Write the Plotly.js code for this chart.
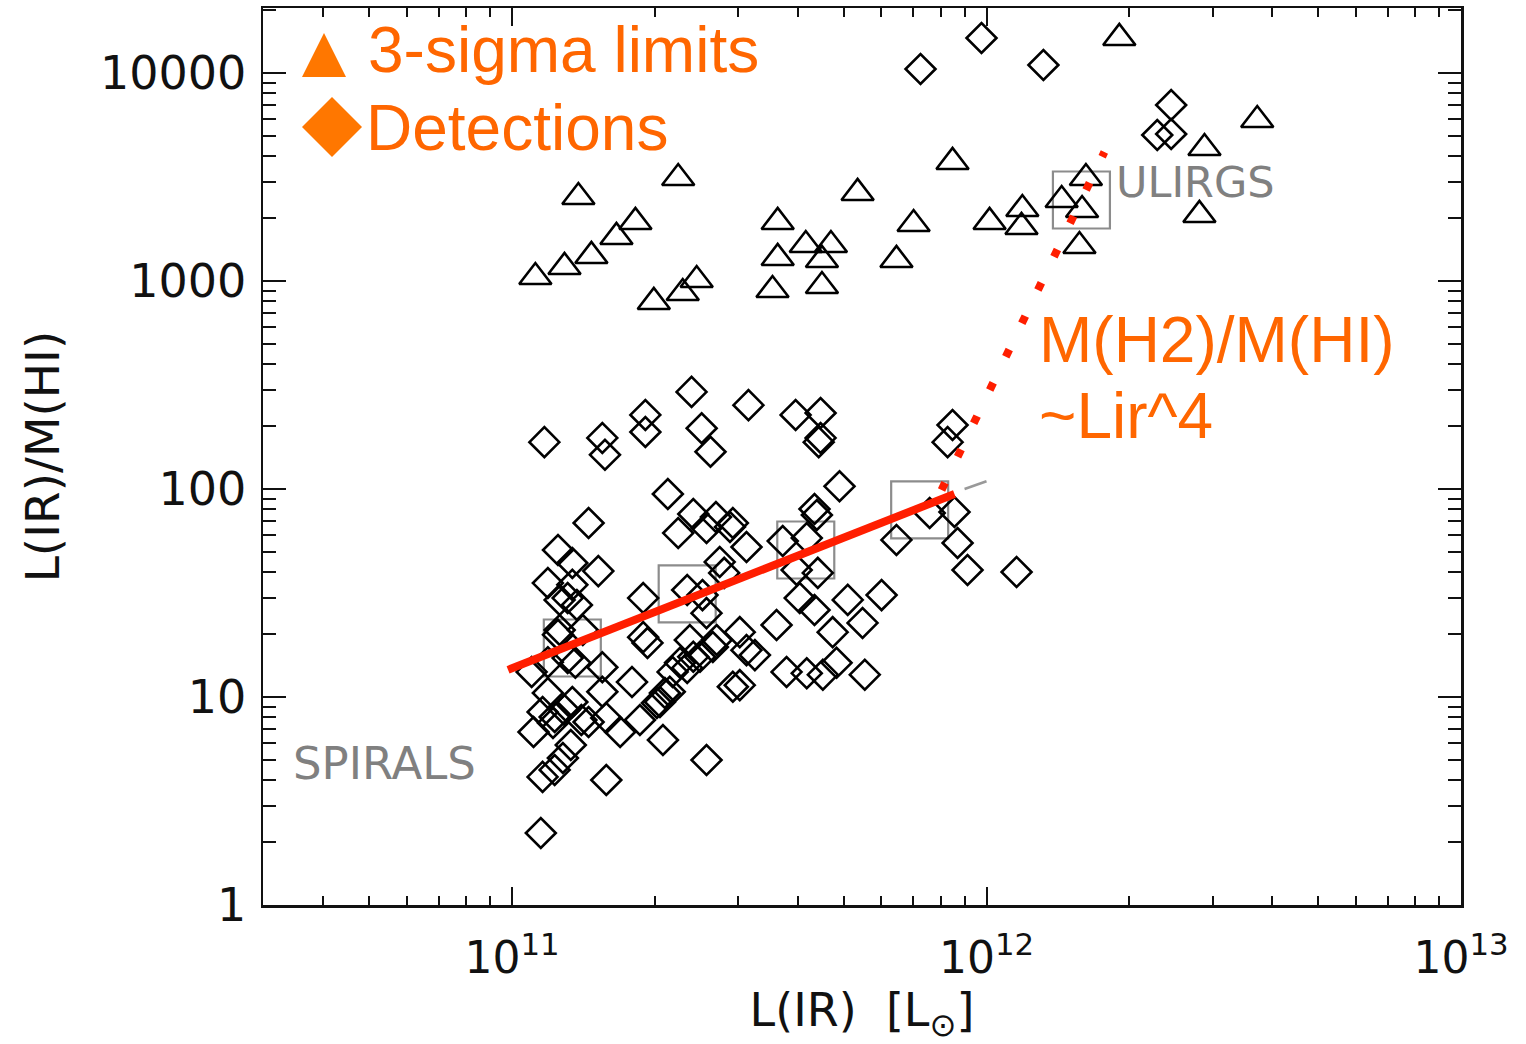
<!DOCTYPE html>
<html>
<head>
<meta charset="utf-8">
<script src="https://cdn.plot.ly/plotly-3.0.1.min.js"></script>
<style>html,body{margin:0;padding:0;background:#fff;}#chart{width:1526px;height:1044px;}</style>
</head>
<body>
<div id="chart"></div>
<script>
// 3-sigma upper limits (triangles)
const limitsLIR = [1.12e11,1.29e11,1.47e11,1.66e11,1.82e11,1.99e11,2.29e11,2.45e11,1.38e11,2.24e11,3.63e11,4.16e11,4.70e11,3.63e11,4.50e11,6.46e11,3.54e11,4.50e11,5.35e11,7.02e11,8.48e11,1.015e12,1.19e12,1.185e12,1.44e12,1.59e12,1.62e12,1.57e12,1.905e12,2.88e12,2.81e12,3.72e12];
const limitsRatio = [1045,1168,1319,1628,1922,793,875,1011,2534,3127,1922,1489,1489,1290,1262,1262,905,946,2649,1879,3734,1922,2218,1818,2451,2194,3127,1473,14735,4359,2077,5943];

// HI detections (diamonds)
const detLIR = [1.17e11,1.55e11,1.57e11,1.91e11,1.91e11,2.39e11,2.51e11,2.62e11,3.15e11,3.96e11,4.47e11,4.47e11,4.43e11,8.48e11,8.28e11,
  4.90e11,2.13e11,1.45e11,2.41e11,2.69e11,2.57e11,2.88e11,2.24e11,4.34e11,4.39e11,3.72e11,4.18e11,2.92e11,3.12e11,2.74e11,6.46e11,7.59e11,8.56e11,8.69e11,9.12e11,1.157e12,
  1.25e11,1.34e11,1.52e11,1.19e11,1.34e11,1.26e11,1.31e11,1.37e11,1.89e11,2.34e11,2.52e11,3.98e11,4.41e11,4.04e11,4.34e11,5.10e11,6.01e11,2.80e11,
  1.26e11,1.41e11,1.25e11,1.31e11,1.36e11,1.10e11,1.55e11,1.79e11,1.19e11,1.34e11,1.55e11,1.16e11,1.23e11,1.40e11,1.11e11,1.58e11,1.69e11,1.86e11,2.05e11,2.15e11,
  1.93e11,1.89e11,2.26e11,2.41e11,2.65e11,2.92e11,2.08e11,1.33e11,1.28e11,1.23e11,1.16e11,1.58e11,2.57e11,1.15e11,2.57e11,2.70e11,3.02e11,3.12e11,3.25e11,3.61e11,
  4.74e11,5.48e11,3.02e11,3.79e11,4.18e11,4.52e11,4.83e11,5.54e11,2.37e11,2.49e11,2.02e11,2.10e11,2.34e11,2.18e11,1.22e11,1.45e11,1.29e11,1.19e11,
  7.26e11,9.76e11,1.318e12,2.45e12,2.29e12,2.45e12];
const detRatio = [168,176,146,227,188,293,196,151,253,227,232,176,168,203,168,
  103,94.6,68.6,75.8,73.3,64.9,65.7,61.4,80.1,75.0,56.2,58.1,68.6,52.6,44.6,56.9,76.7,77.5,55.0,40.8,39.9,
  50.9,44.1,40.3,35.3,34.6,29.3,29.9,27.7,29.9,32.7,30.9,40.8,39.5,29.9,26.2,29.3,30.9,39.5,
  21.0,21.0,19.9,15.4,14.6,13.2,13.9,11.8,10.45,9.46,10.6,8.47,8.01,7.75,6.79,7.93,6.79,7.75,9.46,10.6,
  18.2,19.4,14.6,15.6,17.4,11.2,6.21,5.88,5.09,4.46,4.13,3.99,4.98,2.22,25.3,18.8,20.5,16.8,15.9,22.2,
  20.5,22.7,11.4,13.2,13.0,12.8,14.6,12.8,18.8,15.6,9.36,10.45,13.8,13.2,7.50,7.58,8.66,14.7,
  10453,14735,10925,7018,5034,5090];

// Binned means (grey boxes)
const binLIR = [1.34e11,2.34e11,4.16e11,7.23e11,1.585e12];
const binRatio = [17.2,31.3,50.9,79.3,2451];

// Fit for spirals (solid red)
const fitLIR = [9.81e10,8.56e11];
const fitRatio = [13.5,94.6];

// M(H2)/M(HI) ~ Lir^4 (dotted red)
const relLIR = [8.04e11,1.772e12];
const relRatio = [98.9,4171];

// grey dashed extension
const extLIR = [8.99e11,1.0e12];
const extRatio = [100,109];

const xTickVals = [1e11,1e12,1e13];
const xTickText = ['10<sup>11</sup>','10<sup>12</sup>','10<sup>13</sup>'];
const yTickVals = [1,10,100,1000,10000];
const yTickText = ['1','10','100','1000','10000'];

function minorTicks(lo, hi){ const v=[]; for(let e=lo;e<hi;e++){for(let k=2;k<=9;k++){v.push(k*Math.pow(10,e));}} return v; }

const FONT = 'DejaVu Sans, Liberation Sans, sans-serif';
const AFONT = 'Liberation Sans, Arial, sans-serif';
const ORANGE = '#ff6600';
const RED = '#ff1e00';

const traces = [
  {x: binLIR, y: binRatio, type:'scatter', mode:'markers', hoverinfo:'skip',
   marker:{symbol:'square-open', size:57, color:'#8c8c8c', line:{width:2.2, color:'#8c8c8c'}}},
  {x: detLIR, y: detRatio, type:'scatter', mode:'markers',
   marker:{symbol:'diamond-open', size:23, color:'#000', line:{width:2.6, color:'#000'}}},
  {x: limitsLIR, y: limitsRatio, type:'scatter', mode:'markers',
   marker:{symbol:'triangle-up-open', size:28, color:'#000', line:{width:2.6, color:'#000'}}},
  {x: extLIR, y: extRatio, type:'scatter', mode:'lines', line:{color:'#999', width:2.5}},
  {x: relLIR, y: relRatio, type:'scatter', mode:'lines', line:{color:RED, width:8, dash:'8px,29px'}},
  {x: fitLIR, y: fitRatio, type:'scatter', mode:'lines', line:{color:RED, width:8}}
];

const L=263, R=1461, T=8, B=905;
function px(x){return (x-L)/(R-L);} function py(y){return (B-y)/(B-T);}

const layout = {
  width:1526, height:1044,
  margin:{l:L, r:1526-R, t:T, b:1044-B},
  paper_bgcolor:'#fff', plot_bgcolor:'#fff',
  showlegend:false,
  font:{family:FONT, color:'#111'},
  xaxis:{type:'log', range:[10.4752,13.0], tickmode:'array', tickvals:xTickVals, ticktext:xTickText,
    ticks:'inside', ticklen:18, tickwidth:2, tickcolor:'#111', mirror:'allticks', showline:true, linecolor:'#111', linewidth:2.5,
    showgrid:false, zeroline:false, tickfont:{family:FONT, size:44, color:'#111'}, ticklabelstandoff:13,
    minor:{tickmode:'array', tickvals:minorTicks(10,13), ticks:'inside', ticklen:9, tickwidth:2, tickcolor:'#111', showgrid:false},
    title:{text:'L(IR)  [L<sub>⊙</sub>]', font:{family:FONT, size:46, color:'#111'}, standoff:16}},
  yaxis:{type:'log', range:[0,4.3125], tickmode:'array', tickvals:yTickVals, ticktext:yTickText,
    ticks:'inside', ticklen:23, tickwidth:2, tickcolor:'#111', mirror:'allticks', showline:true, linecolor:'#111', linewidth:2.5,
    showgrid:false, zeroline:false, tickfont:{family:FONT, size:46, color:'#111'}, ticklabelstandoff:5,
    minor:{tickmode:'array', tickvals:minorTicks(0,5), ticks:'inside', ticklen:13, tickwidth:2, tickcolor:'#111', showgrid:false},
    title:{text:'L(IR)/M(HI)', font:{family:FONT, size:47, color:'#111'}, standoff:26}},
  shapes:[
    {type:'path', xref:'paper', yref:'paper', path:`M ${px(302)} ${py(77)} L ${px(346)} ${py(77)} L ${px(324)} ${py(33)} Z`, fillcolor:'#ff7700', line:{width:0}},
    {type:'path', xref:'paper', yref:'paper', path:`M ${px(302)} ${py(127)} L ${px(332)} ${py(97)} L ${px(362)} ${py(127)} L ${px(332)} ${py(157)} Z`, fillcolor:'#ff7700', line:{width:0}}
  ],
  annotations:[
    {text:'3-sigma limits', xref:'paper', yref:'paper', x:px(366), y:py(50), xanchor:'left', yanchor:'middle', showarrow:false, font:{family:AFONT, size:64, color:ORANGE}},
    {text:'Detections', xref:'paper', yref:'paper', x:px(364), y:py(128), xanchor:'left', yanchor:'middle', showarrow:false, font:{family:AFONT, size:64, color:ORANGE}},
    {text:'M(H2)/M(HI)', xref:'paper', yref:'paper', x:px(1037), y:py(340), xanchor:'left', yanchor:'middle', showarrow:false, font:{family:AFONT, size:64, color:ORANGE}},
    {text:'~Lir^4', xref:'paper', yref:'paper', x:px(1037), y:py(416), xanchor:'left', yanchor:'middle', showarrow:false, font:{family:AFONT, size:64, color:ORANGE}},
    {text:'ULIRGS', xref:'paper', yref:'paper', x:px(1114), y:py(182), xanchor:'left', yanchor:'middle', showarrow:false, font:{family:FONT, size:43, color:'#808080'}},
    {text:'SPIRALS', xref:'paper', yref:'paper', x:px(291), y:py(763), xanchor:'left', yanchor:'middle', showarrow:false, font:{family:FONT, size:45, color:'#808080'}}
  ]
};

Plotly.newPlot('chart', traces, layout, {displayModeBar:false, staticPlot:true});
</script>
</body>
</html>
